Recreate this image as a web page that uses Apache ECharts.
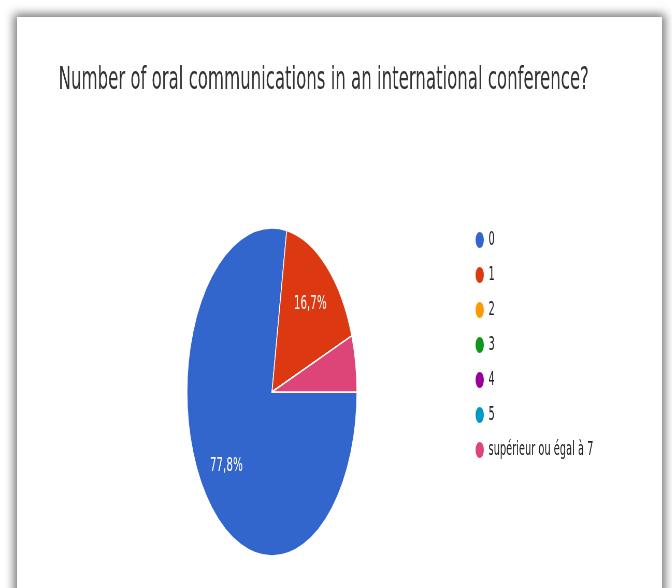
<!DOCTYPE html>
<html>
<head>
<meta charset="utf-8">
<title>Number of oral communications in an international conference?</title>
<script src="https://cdn.jsdelivr.net/npm/echarts@6/dist/echarts.min.js"></script>
<style>
  html, body { margin: 0; padding: 0; width: 672px; height: 588px; overflow: hidden; background: #ffffff; }
  #card {
    position: absolute; left: 17px; top: 17px; width: 645px; height: 640px;
    background: #ffffff; box-shadow: 0 0 9px 3px rgba(0, 0, 0, 0.55);
  }
  #chart {
    position: absolute; left: 0; top: 0; width: 1297px; height: 588px;
    transform: scaleX(0.518); transform-origin: 0 0;
  }
</style>
</head>
<body>
<div id="card"></div>
<div id="chart"></div>
<script>
// Survey answers: how many oral communications at an international conference
const titleText = 'Number of oral communications in an international conference?';
const answers = ['0', '1', '2', '3', '4', '5', 'supérieur ou égal à 7'];
const counts = [14, 3, 0, 0, 0, 0, 1];
const sliceColors = ['#3366cc', '#dc3912', '#ff9900', '#109618', '#990099', '#0099c6', '#dd4477'];

const pieData = answers.map((name, i) => ({ name: name, value: counts[i] }));
const fontFamily = '"DejaVu Sans", sans-serif';

const chart = echarts.init(document.getElementById('chart'), null, { renderer: 'canvas' });

chart.setOption({
  animation: false,
  color: sliceColors,
  title: {
    text: titleText,
    left: 108,
    top: 60,
    textStyle: { fontFamily: fontFamily, fontSize: 32, fontWeight: 'normal', color: '#333333' }
  },
  legend: {
    orient: 'vertical',
    left: 911,
    top: 225,
    icon: 'circle',
    itemWidth: 24,
    itemHeight: 18,
    itemGap: 15,
    data: answers,
    textStyle: { fontFamily: fontFamily, fontSize: 19, lineHeight: 18, color: '#222222' }
  },
  series: [
    {
      // filled slices
      type: 'pie',
      center: [525, 392],
      radius: [0, 164],
      startAngle: 0,
      clockwise: true,
      silent: true,
      label: { show: false },
      labelLine: { show: false },
      itemStyle: { borderColor: '#ffffff', borderWidth: 1.5 },
      data: pieData
    },
    {
      // transparent ring that only carries the percentage labels
      type: 'pie',
      center: [525, 392],
      radius: [60, 164],
      startAngle: 0,
      clockwise: true,
      silent: true,
      itemStyle: { color: 'rgba(0,0,0,0)', borderWidth: 0 },
      labelLine: { show: false },
      label: {
        show: true,
        position: 'inside',
        fontFamily: fontFamily,
        fontSize: 20,
        color: '#ffffff',
        formatter: function (p) {
          return p.percent >= 10 ? p.percent.toFixed(1).replace('.', ',') + '%' : '';
        }
      },
      data: pieData
    }
  ]
});
</script>
</body>
</html>
